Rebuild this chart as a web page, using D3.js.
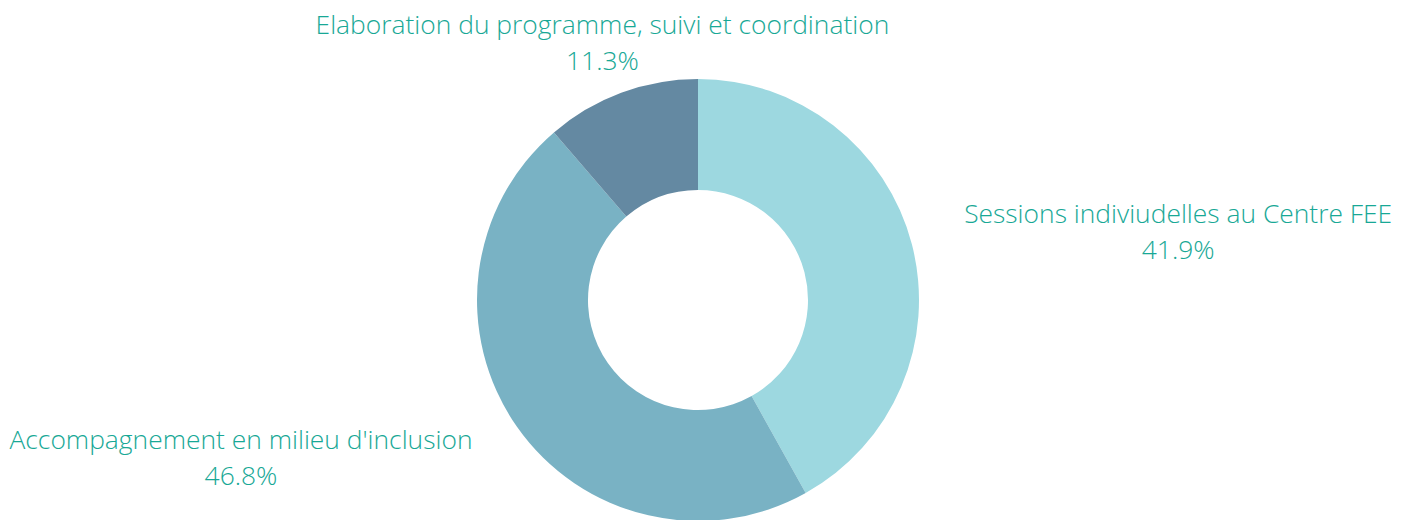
<!DOCTYPE html>
<html>
<head>
<meta charset="utf-8">
<script src="https://cdn.jsdelivr.net/npm/d3@7"></script>
<style>
  body { margin: 0; background: #fff; }
  text { font-family: "Open Sans", sans-serif; font-weight: 300; }
</style>
</head>
<body>
<div id="donut"></div>
<script>
// data
const categories = ["Sessions indiviudelles au Centre FEE", "Accompagnement en milieu d'inclusion", "Elaboration du programme, suivi et coordination"];
const values = [41.9, 46.8, 11.3];
const colors = ["#9dd8e0", "#79b2c4", "#6489a2"];

const width = 1410, height = 520;
const cx = 698, cy = 300;
const outerR = 221, innerR = 110, labelR = 275;

const svg = d3.select("#donut")
  .append("svg")
  .attr("width", width)
  .attr("height", height)
  .append("g")
  .attr("transform", `translate(${cx},${cy})`);

const data = categories.map((c, i) => ({name: c, value: values[i], color: colors[i]}));

const pie = d3.pie().sort(null).value(d => d.value);
const arc = d3.arc().innerRadius(innerR).outerRadius(outerR);

const arcs = pie(data);

svg.selectAll("path")
  .data(arcs)
  .join("path")
  .attr("d", arc)
  .attr("fill", d => d.data.color);

// labels
const lbl = svg.selectAll("g.lbl")
  .data(arcs)
  .join("g")
  .attr("class", "lbl")
  .attr("transform", d => {
    const a = (d.startAngle + d.endAngle) / 2;
    return `translate(${Math.sin(a) * labelR},${-Math.cos(a) * labelR})`;
  });

lbl.each(function(d) {
  const a = (d.startAngle + d.endAngle) / 2;
  const s = Math.sin(a);
  const anchor = Math.abs(s) < 0.5 ? "middle" : (s > 0 ? "start" : "end");
  const g = d3.select(this);
  // block is centered, then pushed sideways for side labels
  const t = g.append("text")
    .attr("text-anchor", "middle")
    .attr("fill", "#18a896")
    .style("font-size", "26.4px");
  t.append("tspan").attr("x", 0).attr("y", -8).text(d.data.name);
  t.append("tspan").attr("x", 0).attr("y", 28).text(d3.format(".1f")(d.data.value) + "%");
  if (anchor !== "middle") {
    const w = t.node().getBBox().width;
    t.attr("transform", `translate(${anchor === "start" ? w / 2 : -w / 2},0)`);
  }
});
</script>
</body>
</html>
